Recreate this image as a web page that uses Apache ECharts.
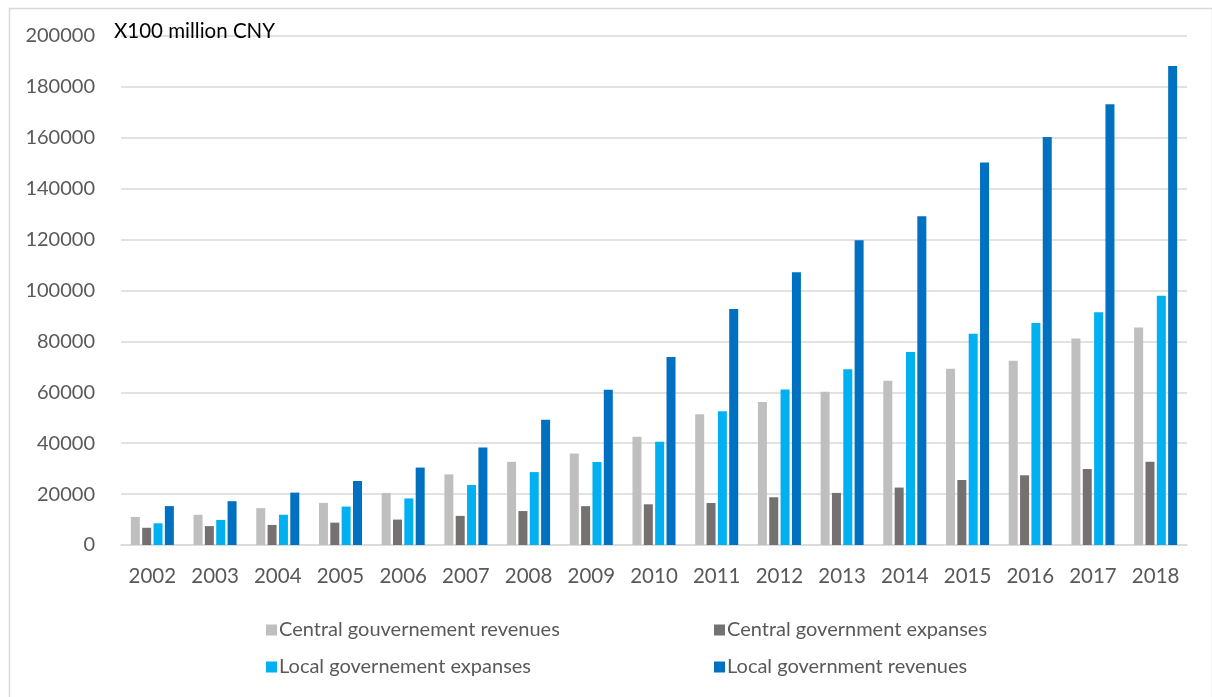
<!DOCTYPE html>
<html>
<head>
<meta charset="utf-8">
<title>Central and local government finances</title>
<script src="https://cdn.jsdelivr.net/npm/echarts@6/dist/echarts.min.js"></script>
<style>
  html, body { margin: 0; padding: 0; background: #ffffff; }
  #chart { width: 1212px; height: 697px; }
</style>
</head>
<body>
<div id="chart"></div>
<script>
  // years on the x axis
  var years = ['2002','2003','2004','2005','2006','2007','2008','2009','2010',
    '2011','2012','2013','2014','2015','2016','2017','2018'];

  // X100 million CNY
  var centralRevenues = [11030,11870,14500,16550,20460,27750,32680,35920,42490,
    51330,56180,60200,64490,69270,72370,81120,85460];
  var centralExpanses = [6770,7420,7890,8780,9990,11440,13340,15260,15990,
    16510,18760,20470,22570,25540,27400,29860,32710];
  var localExpanses = [8520,9850,11890,15100,18300,23570,28650,32600,40610,
    52550,61080,69010,75880,83000,87240,91470,97900];
  var localRevenues = [15280,17230,20590,25150,30430,38340,49250,61040,73880,
    92730,107190,119740,129220,150340,160350,173230,188200];

  var seriesNames = ['Central gouvernement revenues', 'Central government expanses',
    'Local governement expanses', 'Local government revenues'];
  var colors = ['#BFBFBF', '#767171', '#00B0F0', '#0070C0'];

  var font = 'Lato, "Open Sans", sans-serif';
  var chart = echarts.init(document.getElementById('chart'));

  function bar(name, data, color) {
    return {
      name: name,
      type: 'bar',
      data: data,
      barWidth: 9,
      barGap: '26%',
      itemStyle: { color: color },
      emphasis: { disabled: true }
    };
  }

  chart.setOption({
    animation: false,
    color: colors,
    graphic: [
      {
        type: 'rect',
        left: 7, top: 6,
        shape: { width: 1203, height: 700 },
        style: { fill: 'none', stroke: '#D9D9D9', lineWidth: 1.5 },
        silent: true
      },
      {
        type: 'text',
        left: 114, top: 21,
        style: { text: 'X100 million CNY', font: '20.5px ' + font, fill: '#000000' },
        z: 10
      }
    ],
    grid: { left: 121, right: 25, top: 36, bottom: 152 },
    legend: [
      {
        data: [seriesNames[0], seriesNames[2]],
        left: 261, top: 615,
        orient: 'vertical',
        itemWidth: 11, itemHeight: 11, itemGap: 17,
        icon: 'rect',
        textStyle: { fontFamily: font, fontSize: 20, color: '#595959', padding: [0, 0, 0, -3] }
      },
      {
        data: [seriesNames[1], seriesNames[3]],
        left: 709, top: 615,
        orient: 'vertical',
        itemWidth: 11, itemHeight: 11, itemGap: 17,
        icon: 'rect',
        textStyle: { fontFamily: font, fontSize: 20, color: '#595959', padding: [0, 0, 0, -3] }
      }
    ],
    xAxis: {
      type: 'category',
      data: years,
      axisLine: { lineStyle: { color: '#D9D9D9', width: 1.5 } },
      axisTick: { show: false },
      axisLabel: { fontFamily: font, fontSize: 20.5, color: '#595959', margin: 21 }
    },
    yAxis: {
      type: 'value',
      min: 0,
      max: 200000,
      interval: 20000,
      axisLine: { show: false },
      axisTick: { show: false },
      splitLine: { lineStyle: { color: '#D9D9D9', width: 1.5 } },
      axisLabel: {
        fontFamily: font, fontSize: 20, color: '#595959', margin: 26,
        formatter: function (v) { return String(v); }
      }
    },
    series: [
      bar(seriesNames[0], centralRevenues, colors[0]),
      bar(seriesNames[1], centralExpanses, colors[1]),
      bar(seriesNames[2], localExpanses, colors[2]),
      bar(seriesNames[3], localRevenues, colors[3])
    ]
  });
</script>
</body>
</html>
